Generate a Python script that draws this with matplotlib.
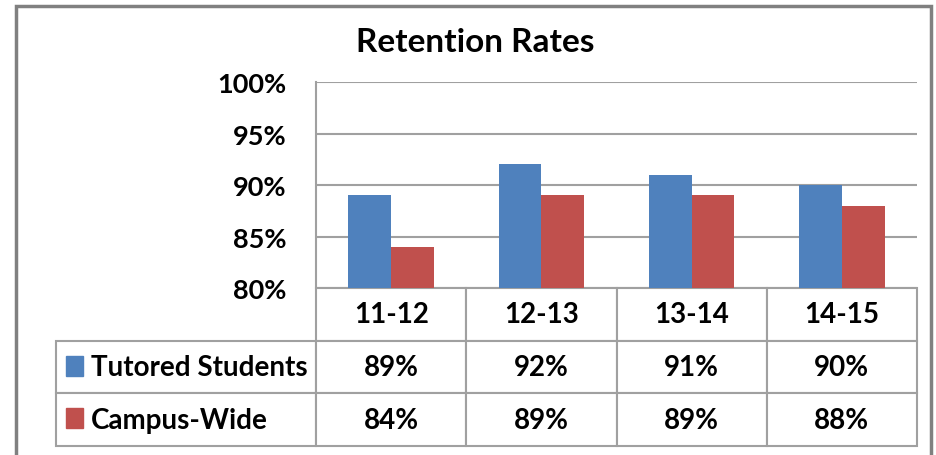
import matplotlib
matplotlib.use("Agg")
import matplotlib.pyplot as plt
import numpy as np
from matplotlib.table import Table
from matplotlib.patches import Rectangle

# retention by academic year
years = ["11-12", "12-13", "13-14", "14-15"]
tutored = [0.89, 0.92, 0.91, 0.90]
campus = [0.84, 0.89, 0.89, 0.88]
series_names = ["Tutored Students", "Campus-Wide"]
yticks = [0.80, 0.85, 0.90, 0.95, 1.00]

blue = "#4f81bd"
red = "#c0504d"
grey = "#a0a0a0"

plt.rcParams["font.family"] = ["Lato", "DejaVu Sans"]
plt.rcParams["font.weight"] = "bold"

W, H = 936, 456
fig = plt.figure(figsize=(W / 100, H / 100), dpi=100)

# plot area in pixel terms
left, right, top, bottom = 316, 917, 83, 289
ax = fig.add_axes([left / W, 1 - bottom / H, (right - left) / W, (bottom - top) / H])

x = np.arange(len(years))
w = 0.285
ax.bar(x - w / 2, tutored, w, color=blue, zorder=3)
ax.bar(x + w / 2, campus, w, color=red, zorder=3)

ax.set_xlim(-0.5, len(years) - 0.5)
ax.set_ylim(0.80, 1.00)
ax.set_yticks(yticks)
ax.set_yticklabels([f"{v:.0%}" for v in yticks], fontsize=19.5, fontweight="bold")
ax.set_xticks([])
ax.tick_params(axis="y", length=0, pad=21)
ax.yaxis.grid(True, color=grey, lw=1.5, zorder=0)
for s in ["top", "right", "bottom"]:
    ax.spines[s].set_visible(False)
ax.spines["left"].set_color(grey)
ax.spines["left"].set_linewidth(1.5)

# data table hanging under the axes; sizes in axes units so no rescaling
tb_left, tb_bottom = 56, 447
aw, ah = right - left, bottom - top
tbl = Table(ax, loc="bottom")
colw = 1.0 / len(years)
labw = (left - tb_left) / aw
rowh = (tb_bottom - bottom) / 3 / ah

def style(cell):
    cell.set_edgecolor(grey)
    cell.set_linewidth(1.5)
    cell.get_text().set_fontsize(20)
    cell.get_text().set_fontweight("bold")

for j, yr in enumerate(years):
    style(tbl.add_cell(0, j, colw, rowh, text=yr, loc="center"))
for i, vals in enumerate([tutored, campus], start=1):
    c = tbl.add_cell(i, -1, labw, rowh, text=series_names[i - 1], loc="left")
    c.PAD = 35 / (left - tb_left)
    style(c)
    for j, v in enumerate(vals):
        style(tbl.add_cell(i, j, colw, rowh, text=f"{v:.0%}", loc="center"))
tbl.auto_set_font_size(False)
ax.add_table(tbl)

# legend keys inside the row label cells
for i, col in enumerate([blue, red]):
    yc = 367 + i * 52
    fig.add_artist(Rectangle((66 / W, 1 - (yc + 10) / H), 17 / W, 20 / H,
                             transform=fig.transFigure, color=col))

fig.text(475 / W, 1 - 42 / H, "Retention Rates", ha="center", va="center",
         fontsize=24, fontweight="bold")

# chart frame
fig.add_artist(Rectangle((16 / W, -0.05), (931 - 16) / W, 1 - 7 / H + 0.05,
                         transform=fig.transFigure, fill=False,
                         edgecolor="#808080", lw=2.5))

fig.savefig("out.png", dpi=100)
